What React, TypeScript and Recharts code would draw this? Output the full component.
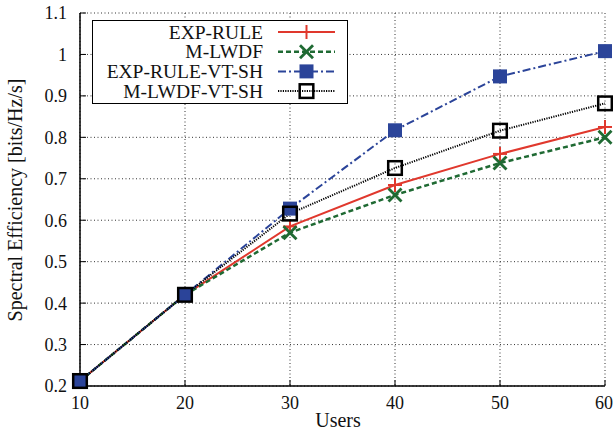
import React from 'react';
import { LineChart, Line, XAxis, YAxis, CartesianGrid, Legend } from 'recharts';

const users = [10, 20, 30, 40, 50, 60];
const expRule = [0.212, 0.42, 0.585, 0.685, 0.76, 0.825];
const mLwdf = [0.212, 0.42, 0.57, 0.661, 0.738, 0.8];
const expRuleVtSh = [0.212, 0.42, 0.628, 0.817, 0.947, 1.008];
const mLwdfVtSh = [0.212, 0.42, 0.616, 0.726, 0.816, 0.882];
const seriesNames = ['EXP-RULE', 'M-LWDF', 'EXP-RULE-VT-SH', 'M-LWDF-VT-SH'];
const xTicks = [10, 20, 30, 40, 50, 60];
const yTicks = [0.2, 0.3, 0.4, 0.5, 0.6, 0.7, 0.8, 0.9, 1, 1.1];
const xTitle = 'Users';
const yTitle = 'Spectral Efficiency [bits/Hz/s]';

const data = users.map((u, i) => ({
  users: u,
  s0: expRule[i],
  s1: mLwdf[i],
  s2: expRuleVtSh[i],
  s3: mLwdfVtSh[i],
}));

const FONT = '"Liberation Serif", "Times New Roman", serif';

const styles = [
  { key: 's0', color: '#e0382d', dash: undefined as string | undefined, width: 2, marker: 'plus' },
  { key: 's1', color: '#1f6a33', dash: '5 3', width: 2.5, marker: 'x' },
  { key: 's2', color: '#2b4499', dash: '8 3 2 3', width: 2, marker: 'square' },
  { key: 's3', color: '#000000', dash: '1.2 1.2', width: 2, marker: 'open' },
];

function Marker({ kind, cx, cy, color }: { kind: string; cx: number; cy: number; color: string }) {
  if (cx == null || cy == null) return null;
  switch (kind) {
    case 'plus':
      return (
        <g>
          <line x1={cx - 7} y1={cy} x2={cx + 7} y2={cy} stroke={color} strokeWidth={2} />
          <line x1={cx} y1={cy - 7} x2={cx} y2={cy + 7} stroke={color} strokeWidth={2} />
        </g>
      );
    case 'x':
      return (
        <g>
          <line x1={cx - 6.5} y1={cy - 6.5} x2={cx + 6.5} y2={cy + 6.5} stroke={color} strokeWidth={2.8} />
          <line x1={cx - 6.5} y1={cy + 6.5} x2={cx + 6.5} y2={cy - 6.5} stroke={color} strokeWidth={2.8} />
        </g>
      );
    case 'square':
      return <rect x={cx - 7} y={cy - 7} width={14} height={14} fill={color} />;
    case 'open':
      return (
        <rect x={cx - 6.8} y={cy - 6.8} width={13.6} height={13.6} fill="none" stroke={color} strokeWidth={2.5} />
      );
    default:
      return null;
  }
}

const renderLegend = () => (
  <svg width={256} height={84} style={{ display: 'block' }}>
    <rect x={0.5} y={0.5} width={255} height={83} fill="#ffffff" stroke="#000" strokeWidth={1} />
    {styles.map((s, i) => {
      const y = 12 + i * 19.7;
      return (
        <g key={s.key}>
          <text
            x={171}
            y={y}
            textAnchor="end"
            dominantBaseline="central"
            fontFamily={FONT}
            fontSize={19.5}
            fill="#111"
          >
            {seriesNames[i]}
          </text>
          <line x1={186} x2={243} y1={y} y2={y} stroke={s.color} strokeWidth={s.width} strokeDasharray={s.dash} />
          <Marker kind={s.marker} cx={214.5} cy={y} color={s.color} />
        </g>
      );
    })}
  </svg>
);

const tickStyle = { fontSize: 18, fontFamily: FONT, fill: '#111' };
const axisLine = { stroke: '#000', strokeWidth: 1.5 };
const tickLine = { stroke: '#000', strokeWidth: 1 };

export default function App() {
  return (
    <div style={{ width: 613, height: 437, background: '#fff' }}>
      <style>{`body{margin:0;background:#fff}`}</style>
      <LineChart width={613} height={437} data={data} margin={{ top: 13, right: 8, bottom: 0, left: 0 }}>
        <CartesianGrid stroke="#333" strokeDasharray="1 2.5" strokeWidth={1} />
        <XAxis
          dataKey="users"
          type="number"
          domain={[10, 60]}
          ticks={xTicks}
          height={51}
          tickSize={-6}
          tickMargin={16}
          tick={tickStyle}
          axisLine={axisLine}
          tickLine={tickLine}
          label={{
            content: () => (
              <text x={338} y={427} textAnchor="middle" fontFamily={FONT} fontSize={20} fill="#111">
                {xTitle}
              </text>
            ),
          }}
        />
        <XAxis
          xAxisId="top"
          orientation="top"
          dataKey="users"
          type="number"
          domain={[10, 60]}
          ticks={xTicks}
          height={0}
          tickSize={-6}
          tick={false}
          axisLine={axisLine}
          tickLine={tickLine}
        />
        <YAxis
          type="number"
          domain={[0.2, 1.1]}
          ticks={yTicks}
          width={80}
          tickSize={-6}
          tickMargin={19}
          tick={tickStyle}
          tickFormatter={(v: number) => String(v)}
          axisLine={axisLine}
          tickLine={tickLine}
          label={{
            content: () => (
              <text
                transform="translate(22,200) rotate(-90)"
                textAnchor="middle"
                fontFamily={FONT}
                fontSize={20}
                fill="#111"
              >
                {yTitle}
              </text>
            ),
          }}
        />
        <YAxis
          yAxisId="right"
          orientation="right"
          type="number"
          domain={[0.2, 1.1]}
          ticks={yTicks}
          width={0}
          tickSize={-6}
          tick={false}
          axisLine={axisLine}
          tickLine={tickLine}
        />
        <Legend
          layout="horizontal"
          verticalAlign="middle"
          align="center"
          content={renderLegend}
          wrapperStyle={{ position: 'absolute', left: 92, top: 20, width: 256, height: 84 }}
        />
        {styles.map((s, i) => (
          <Line
            key={s.key}
            dataKey={s.key}
            name={seriesNames[i]}
            type="linear"
            stroke={s.color}
            strokeWidth={s.width}
            strokeDasharray={s.dash}
            isAnimationActive={false}
            dot={(p: any) => (
              <Marker key={`${s.key}-${p.index}`} kind={s.marker} cx={p.cx} cy={p.cy} color={s.color} />
            )}
            activeDot={false}
          />
        ))}
      </LineChart>
    </div>
  );
}
